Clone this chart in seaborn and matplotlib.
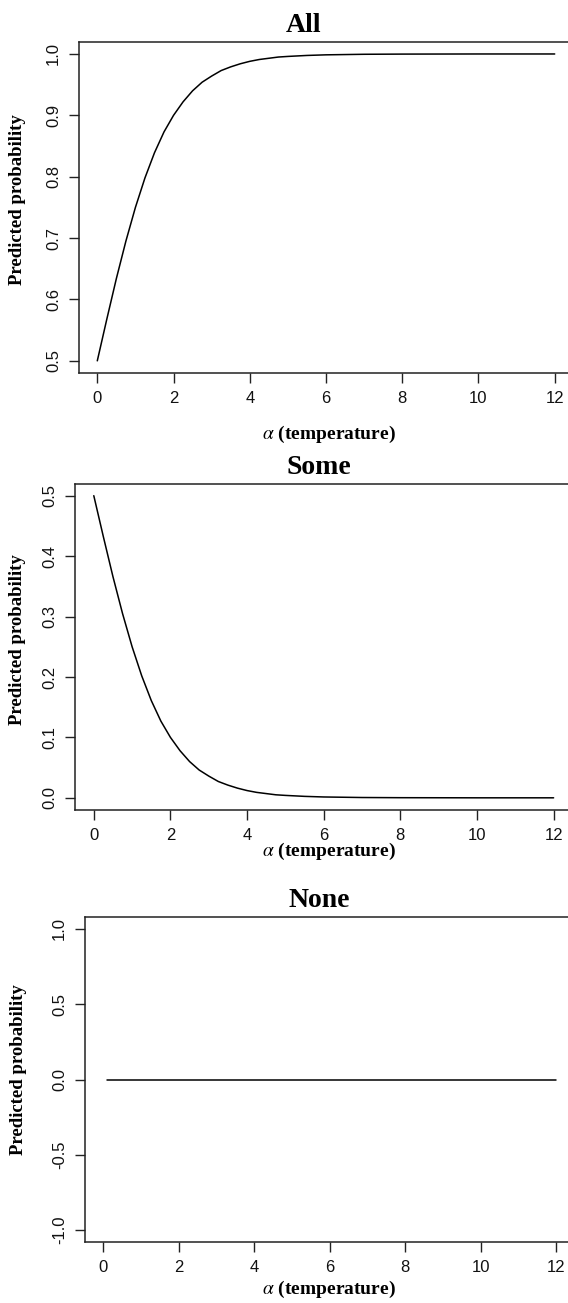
import matplotlib
matplotlib.use("Agg")
import matplotlib.pyplot as plt
import seaborn as sns
from matplotlib.ticker import FormatStrFormatter

# values
alpha_grid = [0, 0.25, 0.5, 0.75, 1.0, 1.25, 1.5, 1.75, 2.0, 2.25, 2.5, 2.75,
              3.0, 3.25, 3.5, 3.75, 4.0, 4.25, 4.5, 4.75, 5.0, 5.5, 6.0, 7.0,
              8.0, 9.0, 10.0, 11.0, 12.0]
p_all = [0.500, 0.568, 0.634, 0.695, 0.750, 0.798, 0.839, 0.873, 0.900, 0.922,
         0.940, 0.954, 0.964, 0.973, 0.979, 0.984, 0.988, 0.991, 0.993, 0.995,
         0.996, 0.9976, 0.9986, 0.9995, 0.9998, 0.9999, 1.0, 1.0, 1.0]
p_some = [0.500, 0.432, 0.366, 0.305, 0.250, 0.202, 0.161, 0.127, 0.100, 0.078,
          0.060, 0.046, 0.036, 0.027, 0.021, 0.016, 0.012, 0.009, 0.007, 0.005,
          0.004, 0.0024, 0.0014, 0.0005, 0.0002, 0.0001, 0.0, 0.0, 0.0]
alpha_none = [0.1, 12.0]
p_none = [0.0, 0.0]

titles = ["All", "Some", "None"]
x_ticks = [0, 2, 4, 6, 8, 10, 12]
y_ticks_all = [0.5, 0.6, 0.7, 0.8, 0.9, 1.0]
y_ticks_some = [0.0, 0.1, 0.2, 0.3, 0.4, 0.5]
y_ticks_none = [-1.0, -0.5, 0.0, 0.5, 1.0]

sns.set_theme(style="ticks")
plt.rcParams["font.family"] = ["Liberation Sans", "DejaVu Sans"]
plt.rcParams["mathtext.fontset"] = "stix"
plt.rcParams["axes.unicode_minus"] = False

W, H = 568, 1303
fig = plt.figure(figsize=(W / 100, H / 100), dpi=100)


def px_axes(left, right, top, bottom):
    return fig.add_axes([left / W, 1 - bottom / H, (right - left) / W, (bottom - top) / H])


def fig_xy(x, y):
    return x / W, 1 - y / H


panels = [
    # box (l, r, t, b), data, yticks, ylim, title x, ylabel pos, xlabel pos
    dict(box=(79, 573, 41.7, 373.1), x=alpha_grid, y=p_all, yt=y_ticks_all,
         ylim=(0.48, 1.02), tx=304, yl=(17.5, 200), xl=(329, 434)),
    dict(box=(75.4, 572, 483.6, 809.9), x=alpha_grid, y=p_some, yt=y_ticks_some,
         ylim=(-0.02, 0.52), tx=319, yl=(17.5, 640), xl=(329, 851)),
    dict(box=(85.1, 574.2, 916.7, 1242.3), x=alpha_none, y=p_none,
         yt=y_ticks_none, ylim=(-1.08, 1.08), tx=319, yl=(19, 1070), xl=(329, 1289)),
]

for name, p in zip(titles, panels):
    l, r, t, b = p["box"]
    ax = px_axes(l, r, t, b)
    sns.lineplot(x=p["x"], y=p["y"], ax=ax, color="black", linewidth=1.1)
    ax.set_xlim(-0.48, 12.48)
    ax.set_ylim(*p["ylim"])
    ax.set_xticks(x_ticks)
    ax.set_yticks(p["yt"])
    ax.yaxis.set_major_formatter(FormatStrFormatter("%.1f"))
    ax.tick_params(direction="out", length=7, width=1.0, colors="#222222",
                   labelcolor="#111111", labelsize=12, pad=6)
    ax.tick_params(axis="y", labelrotation=90)
    for lab in ax.get_yticklabels():
        lab.set_va("center")
    for s in ax.spines.values():
        s.set_visible(True)
        s.set_linewidth(1.1)
        s.set_color("#222222")

    ax.set_title(name, x=(p["tx"] - l) / (r - l), pad=7, fontsize=20,
                 fontweight="bold", family="Liberation Serif", color="black")
    ax.set_ylabel("Predicted probability", fontsize=13.5, fontweight="bold",
                  family="Liberation Serif", color="black")
    ax.set_xlabel(r"$\alpha$ (temperature)", fontsize=14, fontweight="bold",
                  family="Liberation Serif", color="black")
    ax.yaxis.set_label_coords(*fig_xy(*p["yl"]), transform=fig.transFigure)
    ax.xaxis.set_label_coords(*fig_xy(*p["xl"]), transform=fig.transFigure)
    ax.yaxis.label.set_va("center")
    ax.xaxis.label.set_va("center")

fig.savefig("out.png", dpi=100)
